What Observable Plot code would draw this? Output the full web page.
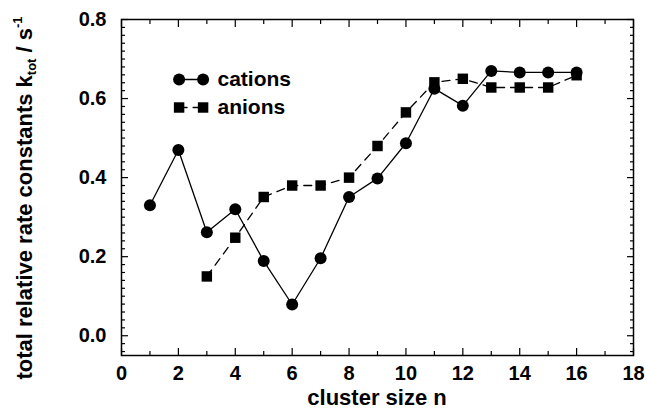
<!DOCTYPE html>
<html><head><meta charset="utf-8">
<script src="https://cdn.jsdelivr.net/npm/d3@7"></script>
<script src="https://cdn.jsdelivr.net/npm/@observablehq/plot@0.6"></script>
<style>body{margin:0;background:#fff} svg{font-family:"Liberation Sans",Arial,Helvetica,sans-serif}</style>
</head><body><div id="chart"></div>
<script>
const cationN = [1,2,3,4,5,6,7,8,9,10,11,12,13,14,15,16];
const cationK = [0.330,0.470,0.262,0.320,0.189,0.079,0.196,0.351,0.398,0.487,0.625,0.582,0.670,0.666,0.666,0.666];
const anionN = [3,4,5,6,7,8,9,10,11,12,13,14,15,16];
const anionK = [0.150,0.248,0.351,0.380,0.380,0.400,0.480,0.565,0.641,0.650,0.628,0.628,0.628,0.659];
const xMajor = [0,2,4,6,8,10,12,14,16,18];
const xMinor = [1,3,5,7,9,11,13,15,17];
const yMajor = [0.0,0.2,0.4,0.6,0.8];
const yMinor = [-0.04,-0.02,0.02,0.04,0.06,0.08,0.10,0.12,0.14,0.16,0.18,0.22,0.24,0.26,0.28,0.30,0.32,0.34,0.36,0.38,0.42,0.44,0.46,0.48,0.50,0.52,0.54,0.56,0.58,0.62,0.64,0.66,0.68,0.70,0.72,0.74,0.76,0.78];
const legendLabels = ["cations","anions"];
const xTitle = "cluster size n";
const yTitleParts = ["total relative rate constants k", "tot", " / s", "-1"];

const cations = cationN.map((n,i)=>({n, k:cationK[i]}));
const anions = anionN.map((n,i)=>({n, k:anionK[i]}));

const tickOpts = {fill:"none", label:null, strokeWidth:1.2};
const spike = {draw(ctx,l){ctx.moveTo(0,0); ctx.lineTo(0,-l);}};

const plot = Plot.plot({
  width:645, height:411,
  marginLeft:121, marginRight:12, marginTop:19, marginBottom:56,
  style:{fontFamily:'"Liberation Sans",Arial,sans-serif', background:"#fff"},
  x:{domain:[0,18]},
  y:{domain:[-0.05,0.8]},
  marks:[
    // ticks (inward)
    Plot.axisX(xMajor,{anchor:"bottom", tickSize:7, dy:-7, ...tickOpts}),
    Plot.axisX(xMinor,{anchor:"bottom", tickSize:4, dy:-4, ...tickOpts}),
    Plot.axisX(xMajor,{anchor:"top", tickSize:7, dy:7, ...tickOpts}),
    Plot.axisX(xMinor,{anchor:"top", tickSize:4, dy:4, ...tickOpts}),
    Plot.axisY(yMajor,{anchor:"left", tickSize:7, dx:7, ...tickOpts}),
    Plot.axisY(yMinor,{anchor:"left", tickSize:4, dx:4, ...tickOpts}),
    Plot.axisY(yMajor,{anchor:"right", tickSize:7, dx:-7, ...tickOpts}),
    Plot.axisY(yMinor,{anchor:"right", tickSize:4, dx:-4, ...tickOpts}),
    // labels
    Plot.axisX(xMajor,{anchor:"bottom", tickSize:0, tickPadding:10, label:null, fontSize:20, fontWeight:"bold", fill:"black"}),
    Plot.axisY(yMajor,{anchor:"left", tickSize:0, tickPadding:15, label:null, tickFormat:d3.format(".1f"), fontSize:20, fontWeight:"bold", fill:"black"}),
    Plot.frame({stroke:"black", strokeWidth:1.5}),
    // data
    Plot.line(anions,{x:"n", y:"k", stroke:"black", strokeWidth:1.3, strokeDasharray:"8,6"}),
    Plot.line(cations,{x:"n", y:"k", stroke:"black", strokeWidth:1.3}),
    Plot.dot(anions,{x:"n", y:"k", symbol:"square", r:5.9, fill:"black", stroke:"none"}),
    Plot.dot(cations,{x:"n", y:"k", symbol:"circle", r:6, fill:"black", stroke:"none"}),
    // legend
    Plot.vector([legendLabels[0]],{frameAnchor:"top-left", dx:57.6, dy:60, length:24, rotate:90, anchor:"start", shape:spike, stroke:"black", strokeWidth:1.3}),
    Plot.vector([legendLabels[1]],{frameAnchor:"top-left", dx:57.6, dy:88, length:24, rotate:90, anchor:"start", shape:spike, stroke:"black", strokeWidth:1.3, strokeDasharray:"8,6"}),
    Plot.dot([legendLabels[0]],{frameAnchor:"top-left", dx:57.6, dy:60, r:6, symbol:"circle", fill:"black"}),
    Plot.dot([legendLabels[0]],{frameAnchor:"top-left", dx:81.6, dy:60, r:6, symbol:"circle", fill:"black"}),
    Plot.dot([legendLabels[1]],{frameAnchor:"top-left", dx:57.6, dy:88, r:5.9, symbol:"square", fill:"black"}),
    Plot.dot([legendLabels[1]],{frameAnchor:"top-left", dx:81.6, dy:88, r:5.9, symbol:"square", fill:"black"}),
    Plot.text([legendLabels[0]],{frameAnchor:"top-left", dx:96, dy:60, text:d=>d, textAnchor:"start", lineAnchor:"middle", fontSize:21, fontWeight:"bold", fill:"black"}),
    Plot.text([legendLabels[1]],{frameAnchor:"top-left", dx:96, dy:88, text:d=>d, textAnchor:"start", lineAnchor:"middle", fontSize:21, fontWeight:"bold", fill:"black"}),
  ]
});

const svg = d3.select(plot);
svg.append("text")
  .attr("x", 377).attr("y", 405)
  .attr("text-anchor","middle")
  .attr("font-size",22).attr("font-weight","bold").attr("fill","black")
  .text(xTitle);
const yt = svg.append("text")
  .attr("transform","translate(32,198) rotate(-90)")
  .attr("text-anchor","middle")
  .attr("font-size",22).attr("font-weight","bold").attr("fill","black");
yt.append("tspan").text(yTitleParts[0]);
yt.append("tspan").attr("font-size",13).attr("dy",4).text(yTitleParts[1]);
yt.append("tspan").attr("dy",-4).text(yTitleParts[2]);
yt.append("tspan").attr("font-size",13).attr("dy",-10).text(yTitleParts[3]);
document.getElementById("chart").appendChild(plot);
</script>
</body></html>
